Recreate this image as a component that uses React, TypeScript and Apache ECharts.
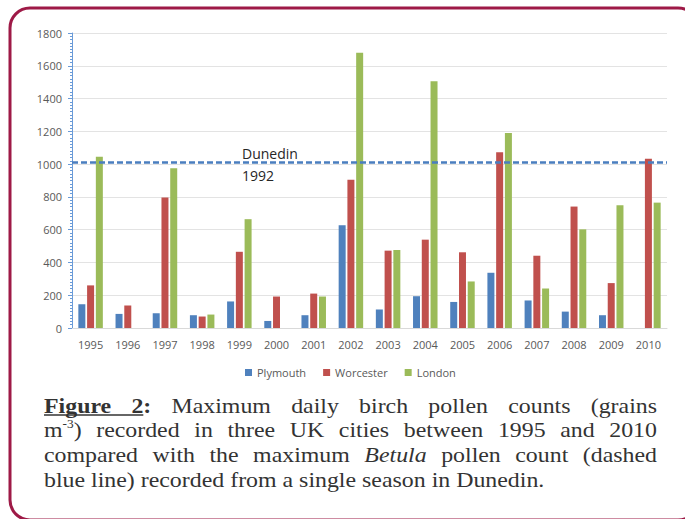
import React, { useEffect, useRef } from "react";
import * as echarts from "echarts";

const years = ["1995","1996","1997","1998","1999","2000","2001","2002","2003","2004","2005","2006","2007","2008","2009","2010"];
const plymouth = [145, 86, 90, 78, 162, 43, 78, 627, 113, 194, 159, 337, 168, 100, 78, null];
const worcester = [260, 137, 796, 70, 465, 192, 210, 905, 472, 539, 462, 1072, 441, 741, 274, 1033];
const london = [1045, null, 974, 82, 664, null, 192, 1680, 476, 1505, 284, 1190, 241, 602, 749, 765];
const dunedinMax = 1012;
const yMin = 0;
const yMax = 1800;
const yInterval = 200;

type Run = { t: string; bold?: boolean; italic?: boolean; sup?: boolean; ul?: boolean };
const captionLines: Run[][][] = [
  [[{ t: "Figure", bold: true, ul: true }], [{ t: "2", bold: true, ul: true }, { t: ":", bold: true }], [{ t: "Maximum" }], [{ t: "daily" }], [{ t: "birch" }], [{ t: "pollen" }], [{ t: "counts" }], [{ t: "(grains" }]],
  [[{ t: "m" }, { t: "-3", sup: true }, { t: ")" }], [{ t: "recorded" }], [{ t: "in" }], [{ t: "three" }], [{ t: "UK" }], [{ t: "cities" }], [{ t: "between" }], [{ t: "1995" }], [{ t: "and" }], [{ t: "2010" }]],
  [[{ t: "compared" }], [{ t: "with" }], [{ t: "the" }], [{ t: "maximum" }], [{ t: "Betula", italic: true }], [{ t: "pollen" }], [{ t: "count" }], [{ t: "(dashed" }]],
  [[{ t: "blue" }], [{ t: "line)" }], [{ t: "recorded" }], [{ t: "from" }], [{ t: "a" }], [{ t: "single" }], [{ t: "season" }], [{ t: "in" }], [{ t: "Dunedin." }]],
];

const SERIF = '"Liberation Serif", serif';
const CAP_SIZE = 21.5;
const SUP_SIZE = 12;
const CAP_SCALE = 1.11;
const CAP_COLOR = "#333333";

function fontOf(r: Run) {
  const size = r.sup ? SUP_SIZE : CAP_SIZE;
  return `${r.italic ? "italic " : ""}${r.bold ? "bold " : ""}${size}px ${SERIF}`;
}

function buildCaption(): any[] {
  const canvas = document.createElement("canvas");
  const ctx = canvas.getContext("2d")!;
  const measure = (r: Run) => {
    ctx.font = fontOf(r);
    return ctx.measureText(r.t).width * CAP_SCALE;
  };
  ctx.font = `${CAP_SIZE}px ${SERIF}`;
  const spaceW = ctx.measureText(" ").width * CAP_SCALE;
  const left = 44;
  const right = 657;
  const top = 405.5;
  const lineH = 24.8;
  const out: any[] = [];
  captionLines.forEach((words, li) => {
    const widths = words.map((w) => w.reduce((s, r) => s + measure(r), 0));
    const total = widths.reduce((a, b) => a + b, 0);
    const justify = li < captionLines.length - 1;
    const gap = justify ? (right - left - total) / (words.length - 1) : spaceW;
    let x = left;
    const y = top + li * lineH;
    let ulStart: number | null = null;
    let ulEnd = 0;
    words.forEach((w, wi) => {
      w.forEach((r) => {
        const rw = measure(r);
        if (r.ul) {
          if (ulStart === null) ulStart = x;
          ulEnd = x + rw;
        }
        out.push({
          type: "text",
          x,
          y: r.sup ? y - 6 : y,
          scaleX: CAP_SCALE,
          silent: true,
          style: {
            text: r.t,
            font: fontOf(r),
            fill: CAP_COLOR,
            align: "left",
            verticalAlign: "middle",
          },
        });
        x += rw;
      });
      if (wi < words.length - 1) x += gap;
    });
    if (ulStart !== null) {
      out.push({
        type: "line",
        silent: true,
        shape: { x1: ulStart, y1: y + 9.5, x2: ulEnd, y2: y + 9.5 },
        style: { stroke: CAP_COLOR, lineWidth: 1.3 },
      });
    }
  });
  return out;
}

export default function App() {
  const ref = useRef<HTMLDivElement>(null);
  useEffect(() => {
    if (!ref.current) return;
    const chart = echarts.init(ref.current, null, { renderer: "svg" });
    const axisBlue = "#6a9bd8";
    const labelFont = { fontFamily: '"Open Sans", sans-serif', fontSize: 11, color: "#595959" };
    chart.setOption({
      animation: false,
      backgroundColor: "#ffffff",
      grid: { left: 72, right: 18, top: 33, bottom: 191, containLabel: false },
      legend: {
        left: 240,
        top: 362,
        itemWidth: 7,
        itemHeight: 7,
        itemGap: 17,
        icon: "rect",
        textStyle: { ...labelFont },
        data: ["Plymouth", "Worcester", "London"],
      },
      xAxis: {
        type: "category",
        data: years,
        boundaryGap: true,
        axisLine: { lineStyle: { color: "#d9d9d9", width: 1 } },
        axisTick: { show: false },
        axisLabel: { ...labelFont, margin: 11 },
      },
      yAxis: {
        type: "value",
        min: yMin,
        max: yMax,
        interval: yInterval,
        axisLine: { show: true, lineStyle: { color: axisBlue, width: 1 } },
        axisTick: { show: true, length: 4, lineStyle: { color: axisBlue } },
        minorTick: { show: true, splitNumber: 10, length: 2, lineStyle: { color: axisBlue } },
        axisLabel: { ...labelFont, margin: 10, formatter: (v: number) => String(v) },
        splitLine: { lineStyle: { color: "#e3e3e3", width: 1 } },
      },
      series: [
        {
          name: "Plymouth",
          type: "bar",
          data: plymouth,
          barWidth: 7,
          barGap: "25%",
          itemStyle: { color: "#4f81bd" },
          markLine: {
            silent: true,
            symbol: "none",
            label: { show: false },
            lineStyle: { color: "#4a7ebf", width: 2.5, type: [6, 3] },
            data: [{ yAxis: dunedinMax }],
          },
        },
        { name: "Worcester", type: "bar", data: worcester, barWidth: 7, barGap: "25%", itemStyle: { color: "#c0504d" } },
        { name: "London", type: "bar", data: london, barWidth: 7, barGap: "25%", itemStyle: { color: "#9bbb59" } },
      ],
      graphic: [
        {
          type: "rect",
          silent: true,
          shape: { x: 10, y: 8, width: 688, height: 512, r: 20 },
          style: { fill: "none", stroke: "#9e1a47", lineWidth: 3 },
        },
        {
          type: "text",
          x: 242,
          y: 153,
          silent: true,
          style: { text: "Dunedin", font: '14px "Open Sans", sans-serif', fill: "#262626", verticalAlign: "middle" },
        },
        {
          type: "text",
          x: 242,
          y: 175,
          silent: true,
          style: { text: "1992", font: '14px "Open Sans", sans-serif', fill: "#262626", verticalAlign: "middle" },
        },
        ...buildCaption(),
      ],
    });
    return () => chart.dispose();
  }, []);
  return (
    <div style={{ position: "fixed", left: 0, top: 0, width: 685, height: 519, overflow: "hidden", background: "#fff" }}>
      <div ref={ref} style={{ width: 685, height: 519 }} />
    </div>
  );
}
